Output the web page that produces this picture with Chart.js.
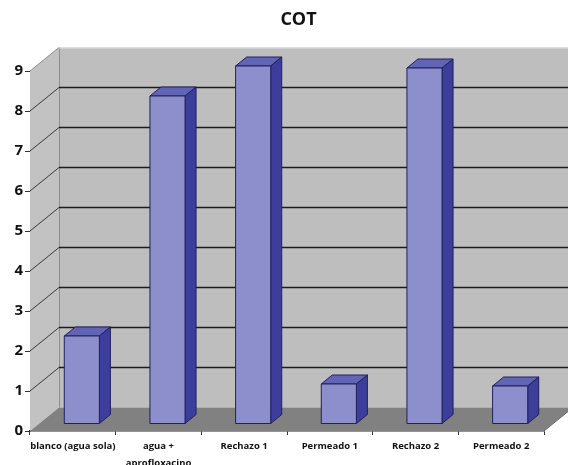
<!DOCTYPE html>
<html>
<head>
<meta charset="utf-8">
<script src="https://cdn.jsdelivr.net/npm/chart.js@4/dist/chart.umd.min.js"></script>
<style>
  html, body { margin: 0; padding: 0; background: #fff; }
</style>
</head>
<body>
<canvas id="myChart" width="568" height="465"></canvas>
<script>
// chart data
const categories = [
  "blanco (agua sola)",
  ["agua +", "aprofloxacino"],
  "Rechazo 1",
  "Permeado 1",
  "Rechazo 2",
  "Permeado 2",
];
const cotValues = [2.2, 8.2, 8.95, 1.0, 8.9, 0.95];
const yTicks = [0, 1, 2, 3, 4, 5, 6, 7, 8, 9];

// 3d look: wall depth and bar placement inside it
const depthX = 29;
const depthY = -23.5;
const barShiftX = 9;
const barShiftY = -7;
const barDepthX = 11;
const barDepthY = -9;

const poly = (ctx, pts, fill, stroke) => {
  ctx.beginPath();
  ctx.moveTo(pts[0][0], pts[0][1]);
  pts.slice(1).forEach((p) => ctx.lineTo(p[0], p[1]));
  ctx.closePath();
  if (fill) {
    ctx.fillStyle = fill;
    ctx.fill();
  }
  if (stroke) {
    ctx.strokeStyle = stroke;
    ctx.lineWidth = 1;
    ctx.stroke();
  }
};

const walls = {
  id: "walls",
  afterLayout(chart) {
    // title sits centred over the wall, not the whole canvas
    chart.titleBlock.left = chart.chartArea.left - 1;
    chart.titleBlock.right = chart.width;
  },
  beforeDatasetsDraw(chart) {
    const ctx = chart.ctx;
    const { left, right, top, bottom } = chart.chartArea;
    const y = chart.scales.y;
    ctx.save();
    // back wall
    ctx.fillStyle = "#bebebf";
    ctx.fillRect(left + depthX, top + depthY, right - left + 10, bottom - top);
    // left side wall
    poly(ctx, [
      [left, top],
      [left + depthX, top + depthY],
      [left + depthX, bottom + depthY],
      [left, bottom],
    ], "#c2c2c3");
    // floor
    poly(ctx, [
      [left, bottom],
      [right, bottom],
      [right + depthX, bottom + depthY],
      [left + depthX, bottom + depthY],
    ], "#818181");

    // wall edges
    ctx.strokeStyle = "#8e8e8e";
    ctx.lineWidth = 1;
    ctx.beginPath();
    ctx.moveTo(left + depthX + 0.5, top + depthY);
    ctx.lineTo(left + depthX + 0.5, bottom + depthY);
    ctx.moveTo(left, top);
    ctx.lineTo(left + depthX, top + depthY);
    ctx.stroke();
    ctx.strokeStyle = "#dedede";
    ctx.beginPath();
    ctx.moveTo(left + depthX, top + depthY + 0.5);
    ctx.lineTo(right + depthX, top + depthY + 0.5);
    ctx.stroke();
    ctx.strokeStyle = "#6a6a6a";
    ctx.beginPath();
    ctx.moveTo(right, bottom);
    ctx.lineTo(right + depthX, bottom + depthY);
    ctx.stroke();

    // grid lines, side wall then back wall
    yTicks.forEach((v) => {
      if (v === yTicks[0] || v === yTicks[yTicks.length - 1]) return;
      const py = y.getPixelForValue(v);
      ctx.strokeStyle = "#3a3a3a";
      ctx.lineWidth = 1;
      ctx.beginPath();
      ctx.moveTo(left, py);
      ctx.lineTo(left + depthX, py + depthY);
      ctx.stroke();
      ctx.strokeStyle = "#1c1c1c";
      ctx.lineWidth = 1.5;
      ctx.beginPath();
      ctx.moveTo(left + depthX, py + depthY);
      ctx.lineTo(right + depthX, py + depthY);
      ctx.stroke();
    });
    ctx.restore();
  },
  afterDatasetsDraw(chart) {
    const ctx = chart.ctx;
    ctx.save();
    chart.getDatasetMeta(0).data.forEach((bar) => {
      const { x, y, base, width } = bar.getProps(["x", "y", "base", "width"], true);
      const x0 = x - width / 2 + barShiftX;
      const x1 = x + width / 2 + barShiftX;
      const y0 = y + barShiftY;
      const y1 = base + barShiftY;
      // top
      poly(ctx, [
        [x0, y0],
        [x1, y0],
        [x1 + barDepthX, y0 + barDepthY],
        [x0 + barDepthX, y0 + barDepthY],
      ], "#6265b6", "#20205c");
      // side
      poly(ctx, [
        [x1, y0],
        [x1 + barDepthX, y0 + barDepthY],
        [x1 + barDepthX, y1 + barDepthY],
        [x1, y1],
      ], "#3d3e9b", "#20205c");
      // front
      poly(ctx, [
        [x0, y0],
        [x1, y0],
        [x1, y1],
        [x0, y1],
      ], "#8c8fcc", "#20205c");
    });
    ctx.restore();
  },
};

const ctx = document.getElementById("myChart").getContext("2d");
const myChart = new Chart(ctx, {
  type: "bar",
  data: {
    labels: categories,
    datasets: [
      {
        label: "COT",
        data: cotValues,
        backgroundColor: "rgba(0,0,0,0)",
        borderWidth: 0,
        categoryPercentage: 1,
        barPercentage: 0.41,
      },
    ],
  },
  options: {
    responsive: false,
    animation: false,
    layout: { padding: { left: 0, right: 24, top: 0, bottom: 0 } },
    plugins: {
      legend: { display: false },
      tooltip: { enabled: false },
      title: {
        display: true,
        text: "COT",
        color: "#111",
        font: { family: "'Open Sans'", weight: "700", size: 18 },
        padding: { top: 9, bottom: 40.4 },
      },
    },
    scales: {
      x: {
        offset: true,
        grid: {
          offset: true,
          drawOnChartArea: false,
          drawTicks: true,
          tickLength: 4,
          color: "#333",
        },
        border: { display: true, color: "#2a2a2a", width: 1.5 },
        ticks: {
          color: "#111",
          padding: 3,
          maxRotation: 0,
          autoSkip: false,
          font: { family: "'Open Sans'", weight: "700", size: 9.5, lineHeight: 1.8 },
        },
        afterFit: (scale) => {
          scale.height = 34;
        },
      },
      y: {
        min: yTicks[0],
        max: yTicks[yTicks.length - 1],
        afterBuildTicks: (scale) => {
          scale.ticks = yTicks.map((v) => ({ value: v }));
        },
        grid: {
          drawOnChartArea: false,
          drawTicks: true,
          tickLength: 5,
          color: "#333",
        },
        border: { display: true, color: "#6e6e6e", width: 1 },
        ticks: {
          color: "#111",
          padding: 2,
          font: { family: "'Open Sans'", weight: "700", size: 15 },
        },
        afterFit: (scale) => {
          scale.width = 30;
        },
      },
    },
  },
  plugins: [walls],
});
</script>
</body>
</html>
